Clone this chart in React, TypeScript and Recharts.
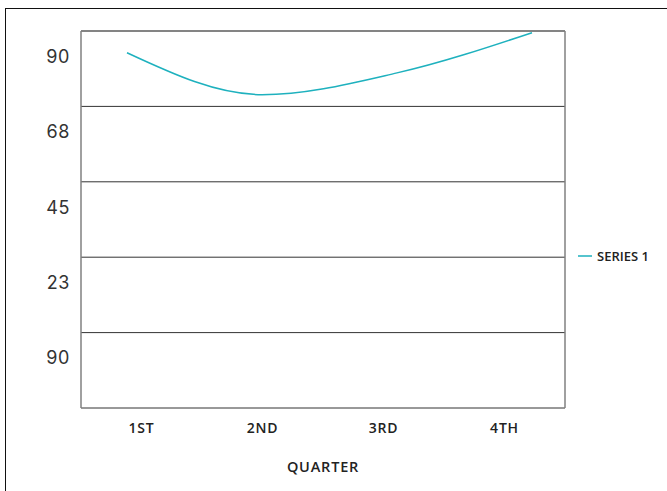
import React from 'react';
import { LineChart, Line, XAxis, YAxis, CartesianGrid, Legend, ReferenceLine } from 'recharts';

const quarters = ['1ST', '2ND', '3RD', '4TH'];
const series1 = [106, 93.5, 100, 112];
const yTicks = [0, 22.5, 45, 67.5, 90, 112.5];
const yTickLabels = ['90', '23', '45', '68', '90', ''];
const seriesName = 'SERIES 1';
const xTitle = 'QUARTER';

const data = quarters.map((q, i) => ({ q, s1: series1[i] }));

const LINE_COLOR = '#1eb1be';
const FONT = '"Open Sans", Lato, sans-serif';

const YTick = (props: any) => {
  const { x, y, payload } = props;
  const idx = yTicks.indexOf(payload.value);
  const label = idx >= 0 ? yTickLabels[idx] : '';
  return (
    <text x={x} y={y - 50} dy="0.36em" textAnchor="end" fontSize={18} fill="#333" fontFamily="Inter, sans-serif" fontWeight={400} letterSpacing={0.6}>
      {label}
    </text>
  );
};

const LegendContent = () => (
  <div style={{ display: 'flex', alignItems: 'center', fontFamily: FONT, fontWeight: 600, fontSize: 13, color: '#222' }}>
    <svg width={14} height={4} style={{ marginRight: 5 }}>
      <line x1={0} y1={2} x2={14} y2={2} stroke={LINE_COLOR} strokeWidth={1.5} />
    </svg>
    <span>{seriesName}</span>
  </div>
);

export default function App() {
  return (
    <div style={{ position: 'absolute', left: 0, top: 0, width: 667, height: 491, overflow: 'hidden', background: '#fff' }}>
      <div style={{ position: 'absolute', left: 5, top: 8, width: 700, height: 520, borderTop: '1.5px solid #111', borderLeft: '1.5px solid #111' }} />
      <div style={{ position: 'absolute', left: 0, top: 0 }}>
        <LineChart width={667} height={491} data={data} margin={{ top: 31, right: 101, bottom: 0, left: 0 }}>
          <CartesianGrid vertical={false} stroke="#333" xAxisId="cat" yAxisId="y" />
          <XAxis
            xAxisId="cat"
            dataKey="q"
            scale="band"
            height={83}
            axisLine={false}
            tickLine={false}
            tickSize={0}
            tickMargin={15}
            tick={{ fontSize: 14, fill: '#222', fontFamily: FONT, fontWeight: 600, letterSpacing: 0.8 }}
            label={{ value: xTitle, position: 'insideBottom', offset: 19, fontSize: 14.5, fill: '#222', fontFamily: FONT, fontWeight: 600, letterSpacing: 0.8 }}
          />
          <XAxis xAxisId="line" dataKey="q" hide padding={{ left: 46, right: 33 }} />
          <YAxis
            yAxisId="y"
            width={81}
            domain={[0, 112.5]}
            ticks={yTicks}
            interval={0}
            axisLine={{ stroke: '#808080', strokeWidth: 1.5 }}
            tickLine={false}
            tickSize={0}
            tickMargin={11}
            tick={<YTick />}
          />
          <YAxis
            yAxisId="r"
            orientation="right"
            width={1}
            domain={[0, 112.5]}
            tick={false}
            tickLine={false}
            axisLine={{ stroke: '#808080', strokeWidth: 1.5 }}
          />
          <ReferenceLine yAxisId="y" xAxisId="cat" y={112.5} stroke="#707070" strokeWidth={1.2} />
          <Line
            xAxisId="line"
            yAxisId="y"
            type="monotone"
            dataKey="s1"
            name={seriesName}
            stroke={LINE_COLOR}
            strokeWidth={1.5}
            dot={false}
            activeDot={false}
            isAnimationActive={false}
          />
          <Legend
            layout="vertical"
            align="center"
            verticalAlign="middle"
            content={<LegendContent />}
            wrapperStyle={{ left: 578, top: 247, width: 'auto' }}
          />
        </LineChart>
      </div>
    </div>
  );
}
